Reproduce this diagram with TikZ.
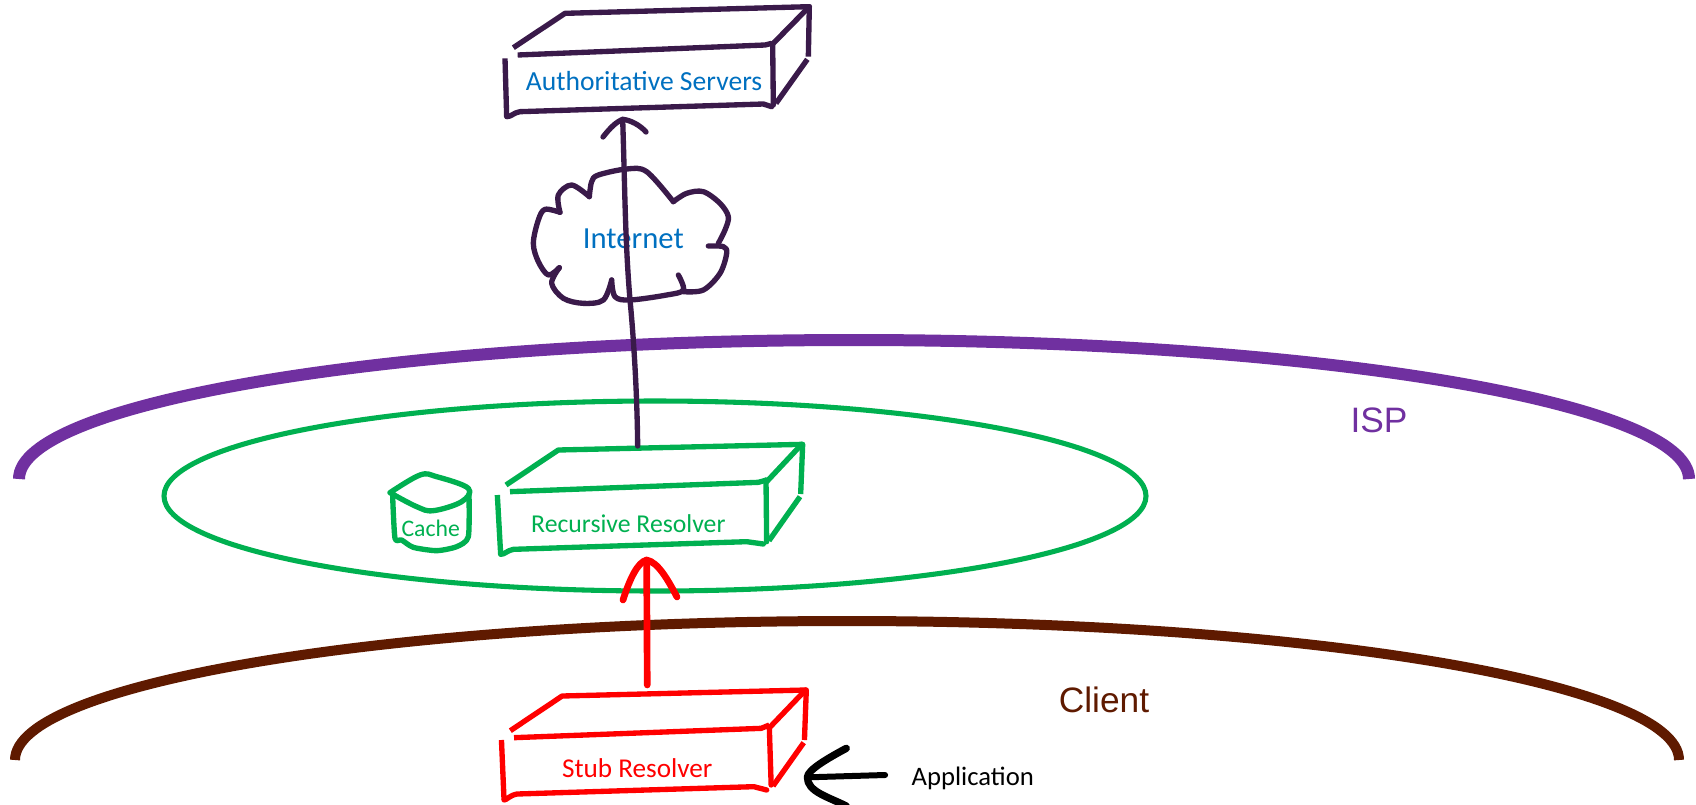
\documentclass[tikz,border=0pt]{standalone}
\usepackage{fontspec}
\setmainfont{Liberation Sans}
\newfontfamily\handfont{Carlito}
\definecolor{inkdark}{HTML}{3A1A4A}
\definecolor{inkblue}{HTML}{0070C0}
\definecolor{inkgreen}{HTML}{00B050}
\definecolor{inkpurple}{HTML}{7030A0}
\definecolor{inkbrown}{HTML}{5F1A00}
\definecolor{inkred}{HTML}{FF0000}
\tikzset{
  sketch/.style={line width=4pt,line cap=round,line join=round},
  openend/.style={line cap=butt},
  hand/.style={font=\handfont\fontsize{#1}{#1}\selectfont,inner sep=0pt},
  zonelabel/.style={font=\fontsize{26.5}{28}\selectfont,inner sep=0pt},
  zoomA/.style={shift={(470,0)},x=0.25pt,y=-0.25pt},
  zoomB/.style={shift={(370,420)},x=0.25pt,y=-0.25pt},
  zoomC/.style={shift={(480,660)},x=0.27747pt,y=-0.25pt}
}
\begin{document}
\begin{tikzpicture}[x=0.75pt,y=-0.75pt]
\useasboundingbox (0,0) rectangle (1696,804);
% zones
\draw[line width=9pt,color=inkpurple] (19,479) arc[start angle=180,end angle=0,x radius=626.25pt,y radius=104.25pt];
\draw[line width=3.8pt,color=inkgreen] (655,496) ellipse [x radius=368.25pt,y radius=71.25pt];
\draw[line width=7.5pt,color=inkbrown] (15,760) arc[start angle=180,end angle=0,x radius=624pt,y radius=104.25pt];
\node[zonelabel,text=inkpurple] (isp) at (1379,420) {ISP};
\node[zonelabel,text=inkbrown] (client) at (1104,700) {Client};
% authoritative servers
\begin{scope}[zoomA,sketch,draw=inkdark]
  \draw[openend] (130,143) -- (285,40) -- (1018,20) -- (1015,170);
  \draw (1018,20) -- (910,130);
  \draw[openend] (143,165) -- (885,135) -- (905,130);
  \draw (908,130) -- (910,315);
  \draw[openend] (105,175) -- (110,350);
  \draw (110,350) .. controls (125,350) and (130,338) .. (150,335) -- (880,312) -- (905,320);
  \draw[openend] (1012,178) -- (918,310);
  \node[hand=20.7,text=inkblue] (auth) at (522,242) {Authoritative Servers};
  \coordinate (authTip) at (458,358);
  \node[hand=23,text=inkblue] (internet) at (490,716) {Internet};
  \draw plot[smooth,tension=.55] coordinates {(610,605) (530,515) (470,507) (385,525) (365,545) (358,590)};
  \draw plot[smooth,tension=.55] coordinates {(358,590) (305,555) (265,585) (270,637)};
  \draw plot[smooth,tension=.55] coordinates {(270,637) (225,628) (205,660) (190,730) (205,785) (235,825) (268,803)};
  \draw plot[smooth,tension=.55] coordinates {(268,803) (245,850) (280,895) (340,910) (400,900) (425,840)};
  \draw plot[smooth,tension=.55] coordinates {(425,840) (435,890) (480,900) (590,885) (640,870) (625,825)};
  \draw plot[smooth,tension=.55] coordinates {(640,875) (700,870) (750,820) (770,760) (760,740) (715,738)};
  \draw plot[smooth,tension=.55] coordinates {(745,730) (765,690) (775,650) (750,610) (700,575) (650,580) (610,605)};
\end{scope}
% recursive resolver
\begin{scope}[zoomB,sketch,draw=inkgreen]
  \draw[openend] (408,195) -- (565,90) -- (1298,73) -- (1292,222);
  \draw (1295,73) -- (1190,185);
  \draw[openend] (420,215) -- (1165,187) -- (1190,180);
  \draw (1188,180) -- (1190,365);
  \draw[openend] (382,225) -- (392,403);
  \draw (392,403) .. controls (405,403) and (410,392) .. (430,388) -- (1130,365) -- (1180,372);
  \draw[openend] (1290,230) -- (1197,362);
  \node[hand=19.3,text=inkgreen] (recursive) at (775,312) {Recursive Resolver};
  \coordinate (recTop) at (803,78);
  \coordinate (recTip) at (830,420);
  \draw plot[smooth,tension=.6] coordinates {(60,218) (150,165) (200,170) (295,205) (275,245) (190,272) (140,260) (60,218)};
  \draw plot[smooth,tension=.4] coordinates {(68,230) (75,355) (95,360) (130,382) (200,392) (260,380) (295,350) (297,222)};
  \node[hand=17.8,text=inkgreen] (cache) at (182,325) {Cache};
\end{scope}
% stub resolver
\begin{scope}[zoomC,sketch,draw=inkred]
  \draw[openend] (82,212) -- (222,108) -- (882,90) -- (877,240);
  \draw (880,90) -- (785,200);
  \draw[openend] (92,233) -- (760,205) -- (782,195);
  \draw (782,200) -- (787,375);
  \draw[openend] (58,240) -- (65,420);
  \draw (65,420) .. controls (72,420) and (80,406) .. (100,402) -- (740,380) -- (775,390);
  \draw[openend] (875,248) -- (792,378);
  \node[hand=20.4,text=inkred] (stub) at (425,325) {Stub Resolver};
  \coordinate (stubTop) at (452,75);
  \coordinate (stubSide) at (885,352);
  \node[hand=20,text=black] (application) at (1332,355) {Application};
  \coordinate (appTail) at (1095,345);
  \coordinate (appUp) at (990,265);
  \coordinate (appDown) at (990,438);
  \draw[black,line width=4.5pt] (appTail) -- (stubSide);
  \draw[black,line width=5.5pt] (appUp) .. controls (940,295) and (885,330) .. (stubSide) .. controls (885,395) and (940,410) .. (appDown);
\end{scope}
% connectors
\draw[sketch,draw=inkdark] (recTop) .. controls (637,380) and (632,320) .. (630,300) .. controls (625,240) and (625,190) .. (authTip);
\draw[sketch,draw=inkdark] (603,137) .. controls (610,128) and (616,122) .. (authTip) .. controls (630,120) and (640,125) .. (646,132);
\draw[sketch,draw=inkred,line width=5pt] (stubTop) -- (recTip);
\draw[sketch,draw=inkred,line width=5pt] (623,600) .. controls (630,578) and (638,562) .. (recTip) .. controls (658,562) and (668,580) .. (677,597);
\end{tikzpicture}
\end{document}
